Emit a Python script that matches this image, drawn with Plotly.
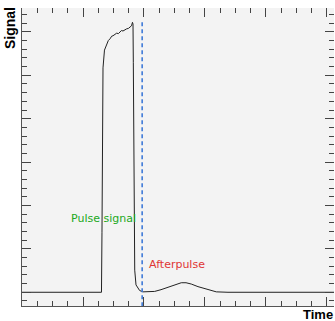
import plotly.graph_objects as go

# waveform samples (time in ns, signal in arbitrary units)
time_ns = [0, 130.3, 131.1, 132.8, 135.2, 138.9, 141.5, 144.3, 147.0, 149.2, 152.0, 155.2,
           158.0, 160.7, 163.0, 165.6, 168.5, 171.6, 174.5, 177.0, 179.5, 181.1, 182.0,
           182.5, 183.6, 184.8, 186.9, 192.9, 198.4, 206.6, 217.5, 227.9, 239.3, 250.8,
           261.1, 268.9, 277.5, 288.5, 299.5, 308.2, 318.5, 337.7, 511.5]
signal = [0, 0, 1.37, 5.17, 5.58, 5.74, 5.80, 5.84, 5.90, 5.91, 5.93, 5.97,
          5.96, 6.00, 6.03, 6.02, 6.05, 6.07, 6.08, 6.11, 6.14, 6.22, 6.18,
          5.30, 2.13, 0.51, 0.17, 0.04, 0.01, 0.01, 0.02, 0.06, 0.12, 0.18,
          0.22, 0.22, 0.19, 0.13, 0.08, 0.04, 0.01, 0, 0]

marker_time = [197.0, 197.0]
marker_signal = [-0.32, 6.28]

labels = ["Pulse signal", "Afterpulse"]
label_x = [134.4, 204.9]
label_y = [1.71, 0.65]

x_range = [0, 511.5]
y_range = [-0.316, 6.55]

fig = go.Figure()
fig.add_trace(go.Scatter(x=time_ns, y=signal, mode="lines",
                         line=dict(color="#222222", width=1), showlegend=False,
                         hoverinfo="skip"))
fig.add_trace(go.Scatter(x=marker_time, y=marker_signal, mode="lines",
                         line=dict(color="#3f7ad8", width=1.6, dash="4px,3px"),
                         showlegend=False, hoverinfo="skip"))

tick_col = "#444444"
fig.update_layout(
    width=335, height=321,
    margin=dict(l=22, r=1, t=8, b=15),
    paper_bgcolor="white", plot_bgcolor="#f3f3f3",
    font=dict(family="DejaVu Sans", size=11, color="#000"),
    xaxis=dict(range=x_range, showgrid=False, zeroline=False, showline=True,
               linecolor="#555555", linewidth=1, ticks="inside", ticklen=9,
               tickcolor=tick_col, dtick=100, tick0=0, showticklabels=False,
               minor=dict(ticks="inside", ticklen=5, dtick=25, tickcolor=tick_col,
                          showgrid=False)),
    yaxis=dict(range=y_range, showgrid=False, zeroline=False, showline=True,
               linecolor="#555555", linewidth=1, ticks="inside", ticklen=9,
               tickcolor=tick_col, dtick=1, tick0=0, showticklabels=False,
               minor=dict(ticks="inside", ticklen=5, dtick=0.2, tickcolor=tick_col,
                          showgrid=False)),
    xaxis2=dict(range=x_range, overlaying="x", side="top", anchor="y",
                showgrid=False, zeroline=False, showline=False, ticks="inside",
                ticklen=9, tickcolor=tick_col, dtick=100, tick0=0,
                showticklabels=False,
                minor=dict(ticks="inside", ticklen=5, dtick=25, tickcolor=tick_col,
                           showgrid=False)),
    yaxis2=dict(range=y_range, overlaying="y", side="right", anchor="x",
                showgrid=False, zeroline=False, showline=False, ticks="inside",
                ticklen=9, tickcolor=tick_col, dtick=1, tick0=0,
                showticklabels=False,
                minor=dict(ticks="inside", ticklen=5, dtick=0.2, tickcolor=tick_col,
                           showgrid=False)),
)
# dummy trace to bind the mirrored tick axes
fig.add_trace(go.Scatter(x=[x_range[0]], y=[y_range[0]], xaxis="x2", yaxis="y2",
                         mode="markers", marker=dict(opacity=0), showlegend=False,
                         hoverinfo="skip"))

fig.add_annotation(text=labels[0], x=label_x[0], y=label_y[0], xref="x", yref="y",
                   showarrow=False, font=dict(color="#22a822", size=11),
                   xanchor="center", yanchor="middle")
fig.add_annotation(text=labels[1], x=label_x[1], y=label_y[1], xref="x", yref="y",
                   showarrow=False, font=dict(color="#e03535", size=11),
                   xanchor="left", yanchor="middle")
fig.add_annotation(text="<b>Signal</b>", x=-22 / 312, y=1.01, xref="paper",
                   yref="paper", xanchor="left", yanchor="top", textangle=-90,
                   showarrow=False, font=dict(family="Liberation Sans", size=14))
fig.add_annotation(text="<b>Time</b>", x=1.0, y=-8 / 298, xref="paper", yref="paper",
                   xanchor="right", yanchor="middle", showarrow=False,
                   borderpad=0, font=dict(family="Liberation Sans", size=13))

fig.write_html("out.html", config={"displayModeBar": False},
               post_script="document.body.style.margin='0';"
                           "document.body.style.overflow='hidden';")
